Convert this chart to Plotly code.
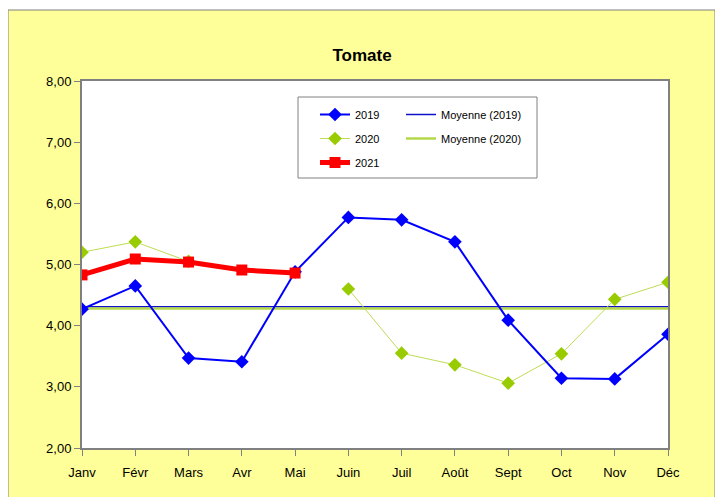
import plotly.graph_objects as go

months = ["Janv", "Févr", "Mars", "Avr", "Mai", "Juin", "Juil", "Août", "Sept", "Oct", "Nov", "Déc"]
y2019 = [4.27, 4.65, 3.47, 3.41, 4.88, 5.77, 5.73, 5.37, 4.09, 3.14, 3.13, 3.86]
y2020 = [5.20, 5.37, 5.05, None, None, 4.60, 3.55, 3.36, 3.06, 3.54, 4.43, 4.71]
y2021 = [4.83, 5.09, 5.04, 4.91, 4.86, None, None, None, None, None, None, None]
moy2019 = [4.31] * 12
moy2020 = [4.28] * 12
y_ticks = [2, 3, 4, 5, 6, 7, 8]

# page offset due to default body margin
OX, OY = 8, 8
W, H = 723 - OX, 497 - OY
L, R, T, B = 82 - OX, 668 - OX, 81 - OY, 448 - OY
pw, ph = R - L, B - T

def px(x):
    return (x - OX - L) / pw

def py(y):
    return (B - (y - OY)) / ph

FONT = "Liberation Sans, Arial, sans-serif"

fig = go.Figure()
fig.add_trace(go.Scatter(x=months, y=moy2019, mode="lines", name="Moyenne (2019)",
                         line=dict(color="#1010C8", width=1.5), legend="legend2",
                         legendgroup="m19", legendrank=1))
fig.add_trace(go.Scatter(x=months, y=moy2020, mode="lines", name="Moyenne (2020)",
                         line=dict(color="#B5D84A", width=2.5), legend="legend2",
                         legendgroup="m20", legendrank=2))
fig.add_trace(go.Scatter(x=months, y=y2020, mode="lines+markers", name="2020",
                         line=dict(color="#BEDD55", width=1),
                         marker=dict(symbol="diamond", size=10.5, color="#99CC00"),
                         connectgaps=False, legendgroup="g20", legendrank=2))
fig.add_trace(go.Scatter(x=months, y=y2019, mode="lines+markers", name="2019",
                         line=dict(color="#0000FF", width=2),
                         marker=dict(symbol="diamond", size=10.5, color="#0000FF"),
                         legendgroup="g19", legendrank=1))
fig.add_trace(go.Scatter(x=months, y=y2021, mode="lines+markers", name="2021",
                         line=dict(color="#FF0000", width=5),
                         marker=dict(symbol="square", size=11, color="#FF0000"),
                         legendgroup="g21", legendrank=3))

shapes = [
    dict(type="rect", xref="paper", yref="paper", x0=px(8), x1=px(715), y0=py(530), y1=py(10),
         fillcolor="#FFFF99", line=dict(color="#808080", width=1), layer="below"),
    dict(type="rect", xref="paper", yref="paper", x0=0, x1=1, y0=0, y1=1,
         fillcolor="white", line=dict(width=0), layer="below"),
    dict(type="rect", xref="paper", yref="paper", x0=px(298), x1=px(537), y0=py(178), y1=py(97),
         fillcolor="white", line=dict(color="#808080", width=1), layer="below"),
]

fig.update_layout(
    width=W, height=H,
    margin=dict(l=L, r=W - R, t=T, b=H - B),
    paper_bgcolor="white", plot_bgcolor="white",
    separators=",.",
    font=dict(family=FONT, size=13, color="black"),
    title=dict(text="<b>Tomate</b>", x=px(362), xref="paper", xanchor="center",
               y=1 - (55 - OY) / H, yanchor="middle", font=dict(size=17, family=FONT)),
    shapes=shapes,
    showlegend=True,
    legend=dict(x=px(315), y=py(100), xanchor="left", yanchor="top",
                bgcolor="rgba(0,0,0,0)", borderwidth=0, font=dict(size=11, family=FONT),
                itemwidth=30, tracegroupgap=5),
    legend2=dict(x=px(401), y=py(100), xanchor="left", yanchor="top",
                 bgcolor="rgba(0,0,0,0)", borderwidth=0, font=dict(size=11, family=FONT),
                 itemwidth=30, tracegroupgap=5),
    xaxis=dict(type="category", categoryorder="array", categoryarray=months,
               range=[0, 11], showgrid=False, zeroline=False,
               showline=True, linecolor="#808080", linewidth=2, mirror=True,
               ticks="outside", ticklen=6, tickcolor="#808080", tickwidth=1,
               ticklabelstandoff=5,
               tickfont=dict(size=13, family=FONT)),
    yaxis=dict(range=[2, 8], tickvals=y_ticks, tickformat=".2f", showgrid=False, zeroline=False,
               showline=True, linecolor="#808080", linewidth=2, mirror=True,
               ticks="outside", ticklen=6, tickcolor="#808080", tickwidth=1,
               tickfont=dict(size=13, family=FONT)),
)

fig.write_html("out.html")
